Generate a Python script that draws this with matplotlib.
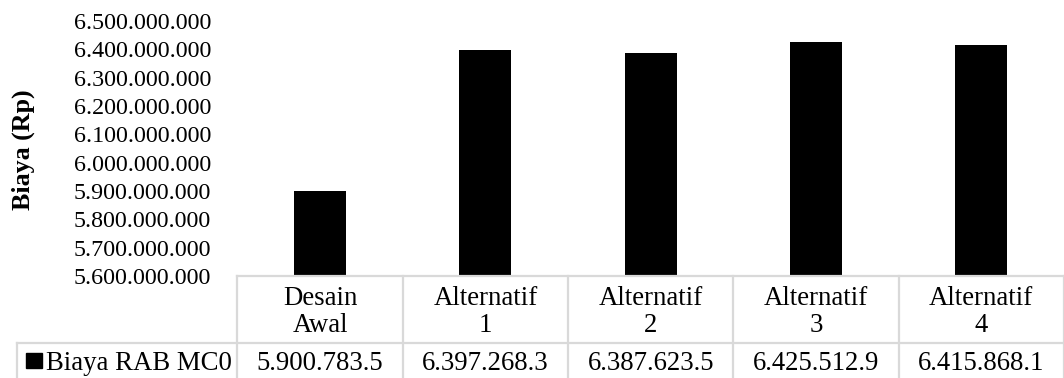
import matplotlib
matplotlib.use('Agg')
import matplotlib.pyplot as plt
import matplotlib.transforms as mtransforms
from matplotlib.ticker import FuncFormatter
import numpy as np

plt.rcParams['font.family'] = ['Liberation Serif', 'DejaVu Serif']

categories = ['Desain\nAwal', 'Alternatif\n1', 'Alternatif\n2', 'Alternatif\n3', 'Alternatif\n4']
series_name = 'Biaya RAB MC0'
# costs in thousands of rupiah
cost_thousands = [5900783.5, 6397268.3, 6387623.5, 6425512.9, 6415868.1]

W, H = 1064, 378
grid_color = '#d9d9d9'
fs_tick = 17.3
fs_table = 19.3

fig = plt.figure(figsize=(W / 100, H / 100), dpi=100)
ax = fig.add_axes([237.5 / W, 1 - 276 / H, 1 - 237.5 / W, (276 - 21) / H])

x = np.arange(len(categories))
values = np.array(cost_thousands) * 1000
ax.bar(x, values, 0.315, color='black')

ax.set_xlim(-0.5, len(categories) - 0.5)
ax.set_ylim(5.6e9, 6.5e9)
ax.set_yticks(np.arange(5.6e9, 6.5e9 + 1, 1e8))
ax.yaxis.set_major_formatter(FuncFormatter(lambda v, p: f'{v:,.0f}'.replace(',', '.')))
ax.tick_params(axis='y', length=0, pad=19, labelsize=fs_tick)
ax.set_xticks([])
for s in ax.spines.values():
    s.set_visible(False)

fig.text(23.5 / W, 1 - 149.5 / H, 'Biaya (Rp)', rotation=90, fontsize=18.7,
         fontweight='bold', ha='center', va='center')

# data table under the bars
trans = mtransforms.blended_transform_factory(ax.transData, fig.transFigure)
y_top = 1 - 276 / H
y_mid = 1 - 343.3 / H
lw = 1.6
ax.plot([-0.5, len(categories) - 0.5], [y_top, y_top], color=grid_color, lw=lw,
        transform=trans, clip_on=False)
fig.add_artist(plt.Line2D([17 / W, 1], [y_mid, y_mid], color=grid_color, lw=lw))
fig.add_artist(plt.Line2D([17 / W, 17 / W], [0, y_mid], color=grid_color, lw=lw))
for b in np.arange(len(categories) + 1) - 0.5:
    ax.plot([b, b], [0, y_top], color=grid_color, lw=lw, transform=trans, clip_on=False)

for i, (cat, v) in enumerate(zip(categories, cost_thousands)):
    ax.text(i, 1 - 312 / H, cat, transform=trans, ha='center', va='center',
            fontsize=fs_table, linespacing=1.08)
    ax.text(i, 1 - 363 / H, f'{v:,.1f}'.replace(',', '.'), transform=trans,
            ha='center', va='center', fontsize=fs_table)

# legend key in the table row header
fig.add_artist(plt.Rectangle((26 / W, 1 - 368 / H), 16 / W, 15 / H,
                             color='black', transform=fig.transFigure))
fig.text(46 / W, 1 - 363 / H, series_name, fontsize=fs_table, ha='left', va='center')

fig.savefig('out.png', dpi=100)
